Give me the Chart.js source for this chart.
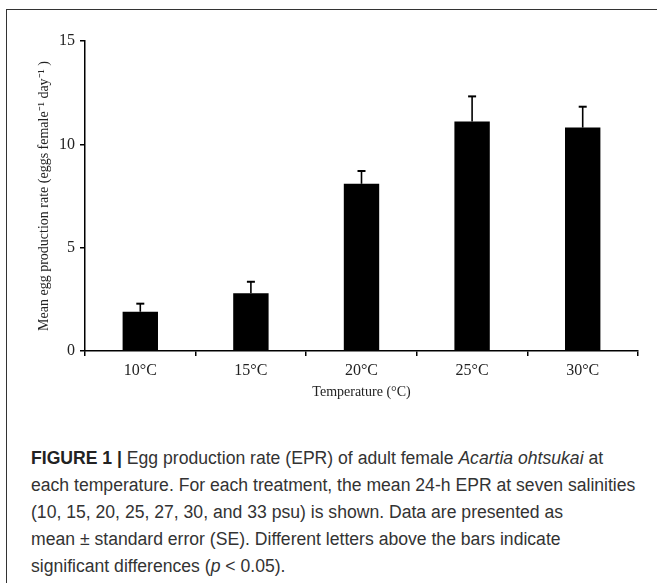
<!DOCTYPE html>
<html>
<head>
<meta charset="utf-8">
<script src="https://cdn.jsdelivr.net/npm/chart.js@4/dist/chart.umd.min.js"></script>
<style>
  html, body { margin: 0; padding: 0; background: #fff; }
  #wrap { position: relative; width: 657px; height: 583px; overflow: hidden; }
  #frame { position: absolute; left: 6px; top: 9px; width: 700px; height: 700px;
           border-top: 1.5px solid #333; border-left: 1.5px solid #333; }
  #box { position: absolute; left: 0; top: 0; width: 657px; height: 420px; }
  #caption { position: absolute; left: 31px; top: 445px; font-family: "Liberation Sans", Arial, sans-serif;
             font-size: 17.6px; line-height: 27px; color: #333; white-space: nowrap; }
  #caption b { color: #222; }
</style>
</head>
<body>
<div id="wrap">
  <div id="frame"></div>
  <div id="box"><canvas id="myChart"></canvas></div>
  <div id="caption">
    <b>FIGURE 1 |</b> Egg production rate (EPR) of adult female <i>Acartia ohtsukai</i> at<br>
    each temperature. For each treatment, the mean 24-h EPR at seven salinities<br>
    (10, 15, 20, 25, 27, 30, and 33 psu) is shown. Data are presented as<br>
    mean ± standard error (SE). Different letters above the bars indicate<br>
    significant differences (<i>p</i> &lt; 0.05).
  </div>
</div>
<script>
const temps = ['10°C', '15°C', '20°C', '25°C', '30°C']
const eprMean = [1.90, 2.80, 8.09, 11.11, 10.81]
const eprSE = [0.39, 0.55, 0.62, 1.21, 1.01]
const yTicks = [0, 5, 10, 15]

const serif = '"Liberation Serif", "Times New Roman", serif'

// upper error bars only
const errorBars = {
    id: 'errorBars',
    afterDatasetsDraw(chart) {
        const c = chart.ctx
        const x = chart.scales.x, y = chart.scales.y
        c.save()
        c.strokeStyle = '#000'
        eprMean.forEach((v, i) => {
            const px = x.getPixelForValue(i)
            const top = y.getPixelForValue(v + eprSE[i])
            const base = y.getPixelForValue(v)
            c.lineWidth = 1.6
            c.beginPath()
            c.moveTo(px, base)
            c.lineTo(px, top)
            c.stroke()
            c.lineWidth = 2
            c.beginPath()
            c.moveTo(px - 4, top)
            c.lineTo(px + 4, top)
            c.stroke()
        })
        c.restore()
    }
}

const ctx = document.getElementById('myChart')
new Chart(ctx, {
    type: 'bar',
    data: {
        labels: temps,
        datasets: [{
            data: eprMean,
            backgroundColor: '#000',
            borderWidth: 0,
            categoryPercentage: 1,
            barPercentage: 0.32
        }]
    },
    options: {
        responsive: true,
        maintainAspectRatio: false,
        animation: false,
        layout: { padding: { top: 41, right: 19, bottom: 0, left: 0 } },
        plugins: { legend: { display: false }, tooltip: { enabled: false } },
        scales: {
            x: {
                grid: { drawOnChartArea: false, drawTicks: true, tickLength: 5, color: '#000', lineWidth: 1.5 },
                border: { color: '#000', width: 1.5 },
                ticks: { color: '#222', font: { family: serif, size: 16 }, padding: 5 },
                title: { display: true, text: 'Temperature (°C)', color: '#222',
                         font: { family: serif, size: 14 }, padding: { top: 0, bottom: 19 } },
                afterFit(s) { s.height = 69 }
            },
            y: {
                min: 0, max: 15,
                afterBuildTicks(s) { s.ticks = yTicks.map(v => ({ value: v })) },
                grid: { drawOnChartArea: false, drawTicks: true, tickLength: 5, color: '#000', lineWidth: 1.5 },
                border: { color: '#000', width: 1.5 },
                ticks: { color: '#222', font: { family: serif, size: 16 }, padding: 5 },
                title: { display: true, text: 'Mean egg production rate (eggs female⁻¹ day⁻¹ )', color: '#222',
                         font: { family: serif, size: 14 }, padding: { top: 36, bottom: 0 } },
                afterFit(s) { s.width = 85 }
            }
        }
    },
    plugins: [errorBars]
})
</script>
</body>
</html>
